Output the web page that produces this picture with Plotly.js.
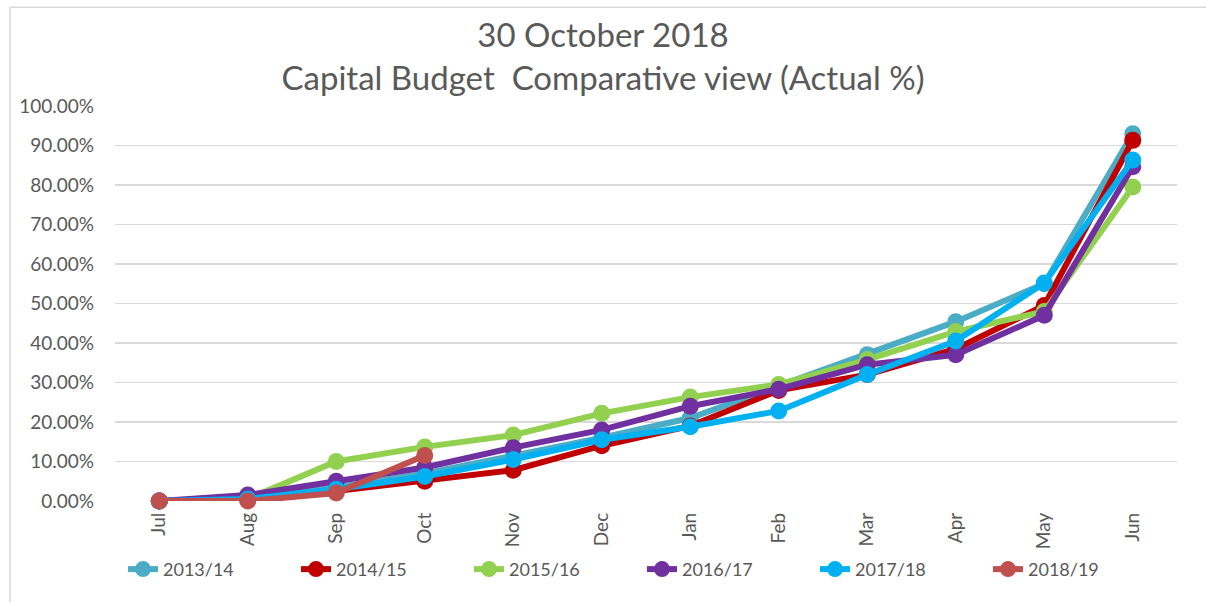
<!DOCTYPE html>
<html>
<head>
<meta charset="utf-8">
<script src="https://cdn.plot.ly/plotly-3.0.1.min.js"></script>
<style>
html,body{margin:0;padding:0;background:#fff;}
#chart{width:1206px;height:603px;}
</style>
</head>
<body>
<div id="chart"></div>
<script>
const months = ["Jul","Aug","Sep","Oct","Nov","Dec","Jan","Feb","Mar","Apr","May","Jun"];
const seriesNames = ["2013/14","2014/15","2015/16","2016/17","2017/18","2018/19"];
const s2013_14 = [0, 0.5, 3.5, 7.0, 11.5, 16.0, 21.0, 29.0, 37.0, 45.4, 55.0, 93.0];
const s2014_15 = [0, 0.3, 2.5, 5.0, 7.8, 14.0, 19.0, 28.0, 32.0, 38.5, 49.5, 91.3];
const s2015_16 = [0, 0.5, 10.0, 13.7, 16.7, 22.2, 26.3, 29.5, 35.8, 42.9, 48.0, 79.5];
const s2016_17 = [0, 1.5, 5.0, 8.5, 13.5, 18.0, 24.0, 28.3, 34.5, 37.0, 47.0, 84.6];
const s2017_18 = [0, 0.5, 3.0, 6.2, 10.5, 15.5, 18.8, 22.8, 32.0, 40.5, 55.2, 86.3];
const s2018_19 = [0, 0.0, 2.0, 11.5];
const yTicks = [0,10,20,30,40,50,60,70,80,90,100];

const colors = ["#4BACC6","#C00000","#92D050","#7030A0","#00B0F0","#C0504D"];
const allSeries = [s2013_14, s2014_15, s2015_16, s2016_17, s2017_18, s2018_19];

const traces = allSeries.map((vals, i) => ({
  type: "scatter",
  mode: "lines+markers",
  name: seriesNames[i],
  x: months.slice(0, vals.length),
  y: vals,
  line: {color: colors[i], width: 6},
  marker: {color: colors[i], size: 17, symbol: "circle"},
  cliponaxis: false
}));

const L = 115, R = 1177, T = 106, B = 501.5;
const W = R - L, H = B - T;
const px = v => (v - L) / W;
const py = v => (B - v) / H;

const layout = {
  width: 1206, height: 603,
  margin: {l: L, r: 1206 - R, t: T, b: 603 - B},
  paper_bgcolor: "#ffffff",
  plot_bgcolor: "#ffffff",
  font: {family: "Lato, 'Open Sans', sans-serif", color: "#595959"},
  title: {
    text: "30 October 2018<br>Capital Budget  Comparative view (Actual %)",
    font: {family: "Lato, 'Open Sans', sans-serif", size: 33, color: "#595959"},
    x: 0.5, xanchor: "center", xref: "container",
    y: 1 - 47/603, yanchor: "middle", yref: "container"
  },
  xaxis: {
    type: "category",
    categoryorder: "array",
    categoryarray: months,
    range: [-0.5, 11.5],
    tickangle: -90,
    tickfont: {size: 19, color: "#595959"},
    ticklabelstandoff: 7,
    showgrid: false,
    showline: false,
    zeroline: false,
    ticks: "",
    fixedrange: true
  },
  yaxis: {
    range: [0, 100],
    tickvals: yTicks,
    ticktext: yTicks.map(v => v.toFixed(2) + "%"),
    tickfont: {size: 19, color: "#595959"},
    showgrid: true,
    gridcolor: "#d9d9d9",
    gridwidth: 1.5,
    zeroline: false,
    showline: false,
    ticks: "",
    ticklabelstandoff: 20,
    fixedrange: true
  },
  showlegend: true,
  legend: {
    orientation: "h",
    x: px(123), xanchor: "left",
    y: py(570), yanchor: "middle",
    entrywidth: 128, entrywidthmode: "pixels",
    font: {size: 18, color: "#595959"},
    bgcolor: "rgba(0,0,0,0)",
    itemsizing: "trace",
    traceorder: "normal"
  },
  shapes: [
    {type: "line", xref: "paper", yref: "paper", x0: px(10), x1: px(10), y0: py(7), y1: py(603), line: {color: "#d9d9d9", width: 1.5}},
    {type: "line", xref: "paper", yref: "paper", x0: px(10), x1: px(1206), y0: py(7), y1: py(7), line: {color: "#d9d9d9", width: 1.5}}
  ]
};

Plotly.newPlot("chart", traces, layout, {displayModeBar: false, staticPlot: true});
</script>
</body>
</html>
